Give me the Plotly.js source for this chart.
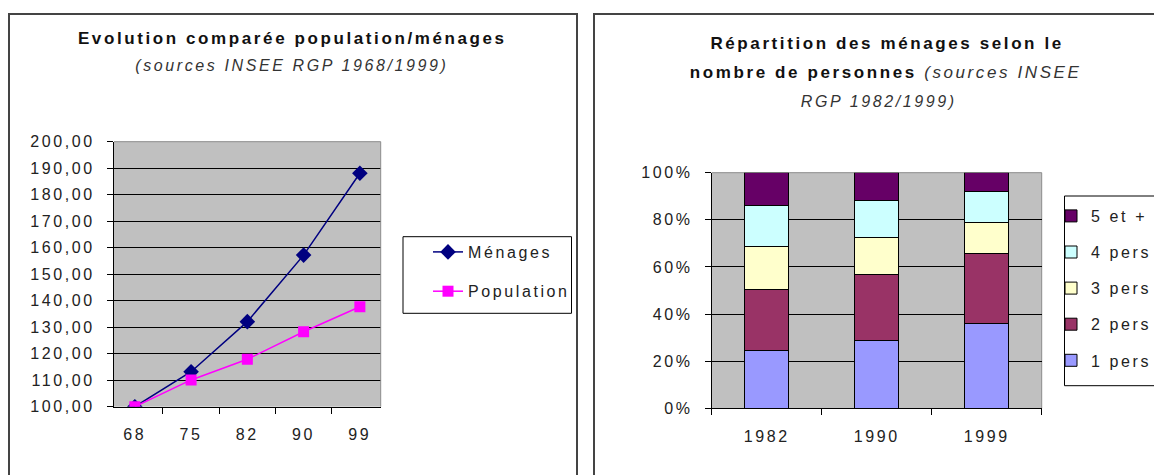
<!DOCTYPE html>
<html>
<head>
<meta charset="utf-8">
<script src="https://cdn.plot.ly/plotly-3.0.1.min.js"></script>
<style>
html, body { margin:0; padding:0; background:#fff; overflow:hidden; width:1154px; height:475px; }
#chart { overflow:hidden; }
#chart svg text { letter-spacing: 2.6px; }
#chart g.scrollbox { clip-path: none !important; }
</style>
</head>
<body>
<div id="chart" style="width:1154px;height:475px;"></div>
<script>
// ---- Data: left chart (indice base 100 en 1968)
var years = ['68', '75', '82', '90', '99'];
var menages = [100.0, 113.2, 132.1, 157.2, 188.1];
var population = [100.0, 110.1, 117.9, 128.3, 137.7];

// ---- Data: right chart (répartition des ménages, %)
var recensements = ['1982', '1990', '1999'];
var pers1 = [24.7, 28.7, 36.1];
var pers2 = [25.9, 27.9, 29.7];
var pers3 = [18.0, 16.0, 13.1];
var pers4 = [17.4, 15.5, 13.3];
var pers5 = [14.0, 11.9, 7.8];
var sizeNames = ['1 pers', '2 pers', '3 pers', '4 pers', '5 et +'];
var sizeSeries = [pers1, pers2, pers3, pers4, pers5];
var sizeColors = ['#9999ff', '#993366', '#ffffcc', '#ccffff', '#660066'];

var W = 1154, H = 475;
function px(x) { return x / W; }
function py(y) { return 1 - y / H; }

var FONT = 'Liberation Sans, Arial, sans-serif';
var TXT = '#222222';

var traces = [
  {
    x: years, y: menages, name: 'Ménages', type: 'scatter', mode: 'lines+markers',
    xaxis: 'x', yaxis: 'y', legend: 'legend', legendgroup: 'm',
    line: {color: '#000080', width: 1.5},
    marker: {symbol: 'diamond', size: 12, color: '#000080'}
  },
  {
    x: years, y: population, name: 'Population', type: 'scatter', mode: 'lines+markers',
    xaxis: 'x', yaxis: 'y', legend: 'legend', legendgroup: 'p',
    line: {color: '#ff00ff', width: 1.5},
    marker: {symbol: 'square', size: 11, color: '#ff00ff'}
  }
];
sizeSeries.forEach(function (vals, i) {
  traces.push({
    x: recensements, y: vals, name: sizeNames[i], type: 'bar',
    xaxis: 'x2', yaxis: 'y2', legend: 'legend2', legendgroup: 'g' + i,
    legendrank: 10 - i,
    marker: {color: sizeColors[i], line: {color: '#000000', width: 1}}
  });
});

var axCommon = {
  showgrid: false, zeroline: false, showline: true, linecolor: '#000', linewidth: 1,
  ticks: 'outside', ticklen: 6, tickcolor: '#000', tickwidth: 1,
  tickfont: {family: FONT, size: 16, color: TXT}, fixedrange: true
};

var layout = {
  width: W, height: H, autosize: false,
  margin: {l: 0, r: 0, t: 0, b: 0},
  paper_bgcolor: '#ffffff', plot_bgcolor: '#c0c0c0',
  separators: ',.',
  barmode: 'stack', bargap: 0.6,
  showlegend: true,
  font: {family: FONT, size: 16, color: TXT},
  xaxis: Object.assign({}, axCommon, {
    domain: [px(114), px(380.7)], anchor: 'y', type: 'category',
    tickson: 'boundaries', ticklabelstandoff: 13
  }),
  yaxis: Object.assign({}, axCommon, {
    domain: [py(406.7), py(141.7)], anchor: 'x', range: [100, 200], dtick: 10,
    tickformat: '.2f', showgrid: true, gridcolor: '#000', gridwidth: 1, ticklabelstandoff: 9
  }),
  xaxis2: Object.assign({}, axCommon, {
    domain: [px(711.7), px(1041.7)], anchor: 'y2', type: 'category',
    tickson: 'boundaries', ticklabelstandoff: 13
  }),
  yaxis2: Object.assign({}, axCommon, {
    domain: [py(408.3), py(172.7)], anchor: 'x2', range: [0, 100], dtick: 20,
    ticksuffix: '%', showgrid: true, gridcolor: '#000', gridwidth: 1, ticklabelstandoff: 9
  }),
  legend: {
    x: px(428), y: py(235), xanchor: 'left', yanchor: 'top',
    bgcolor: 'rgba(0,0,0,0)', borderwidth: 0,
    traceorder: 'grouped', tracegroupgap: 15.5,
    font: {family: FONT, size: 16, color: TXT}
  },
  legend2: {
    x: px(1051), y: py(199), xanchor: 'left', yanchor: 'top',
    bgcolor: 'rgba(0,0,0,0)', borderwidth: 0,
    traceorder: 'grouped', tracegroupgap: 12.3,
    font: {family: FONT, size: 16, color: TXT}
  },
  shapes: [
    // panel frames
    {type: 'rect', xref: 'paper', yref: 'paper', x0: px(9), x1: px(577), y0: -0.1, y1: py(14),
     line: {color: '#444', width: 2}, fillcolor: 'rgba(0,0,0,0)'},
    {type: 'rect', xref: 'paper', yref: 'paper', x0: px(594), x1: px(1160), y0: -0.1, y1: py(14),
     line: {color: '#444', width: 2}, fillcolor: 'rgba(0,0,0,0)'},
    // legend boxes
    {type: 'rect', xref: 'paper', yref: 'paper', x0: px(403), x1: px(571.5), y0: py(313.3), y1: py(236.7),
     line: {color: '#000', width: 1}, fillcolor: '#ffffff', layer: 'below'},
    {type: 'rect', xref: 'paper', yref: 'paper', x0: px(1064.5), x1: px(1160), y0: py(385.7), y1: py(196),
     line: {color: '#000', width: 1}, fillcolor: '#ffffff', layer: 'below'},
    // grey plot-area borders (top / right)
    {type: 'line', xref: 'x domain', yref: 'y domain', x0: 0, x1: 1, y0: 1, y1: 1, line: {color: '#8c8c8c', width: 1}},
    {type: 'line', xref: 'x domain', yref: 'y domain', x0: 1, x1: 1, y0: 0, y1: 1, line: {color: '#8c8c8c', width: 1}},
    {type: 'line', xref: 'x2 domain', yref: 'y2 domain', x0: 0, x1: 1, y0: 1, y1: 1, line: {color: '#8c8c8c', width: 1}, layer: 'below'},
    {type: 'line', xref: 'x2 domain', yref: 'y2 domain', x0: 1, x1: 1, y0: 0, y1: 1, line: {color: '#8c8c8c', width: 1}, layer: 'below'}
  ],
  annotations: [
    {text: '<b>Evolution comparée population/ménages</b>', xref: 'paper', yref: 'paper',
     x: px(292.5), y: py(39), xanchor: 'center', yanchor: 'middle', showarrow: false,
     font: {family: FONT, size: 17, color: '#111'}},
    {text: '<i>(sources INSEE RGP 1968/1999)</i>', xref: 'paper', yref: 'paper',
     x: px(292), y: py(66), xanchor: 'center', yanchor: 'middle', showarrow: false,
     font: {family: FONT, size: 16, color: '#333'}},
    {text: '<b>Répartition des ménages selon le</b>', xref: 'paper', yref: 'paper',
     x: px(887), y: py(43), xanchor: 'center', yanchor: 'middle', showarrow: false,
     font: {family: FONT, size: 17, color: '#111'}},
    {text: '<b>nombre de personnes</b> <i><span style="color:#333">(sources INSEE</span></i>', xref: 'paper', yref: 'paper',
     x: px(886), y: py(73), xanchor: 'center', yanchor: 'middle', showarrow: false,
     font: {family: FONT, size: 17, color: '#111'}},
    {text: '<i>RGP 1982/1999)</i>', xref: 'paper', yref: 'paper',
     x: px(878), y: py(102), xanchor: 'center', yanchor: 'middle', showarrow: false,
     font: {family: FONT, size: 16, color: '#333'}}
  ]
};

Plotly.newPlot('chart', traces, layout, {staticPlot: true, displayModeBar: false});
</script>
</body>
</html>
